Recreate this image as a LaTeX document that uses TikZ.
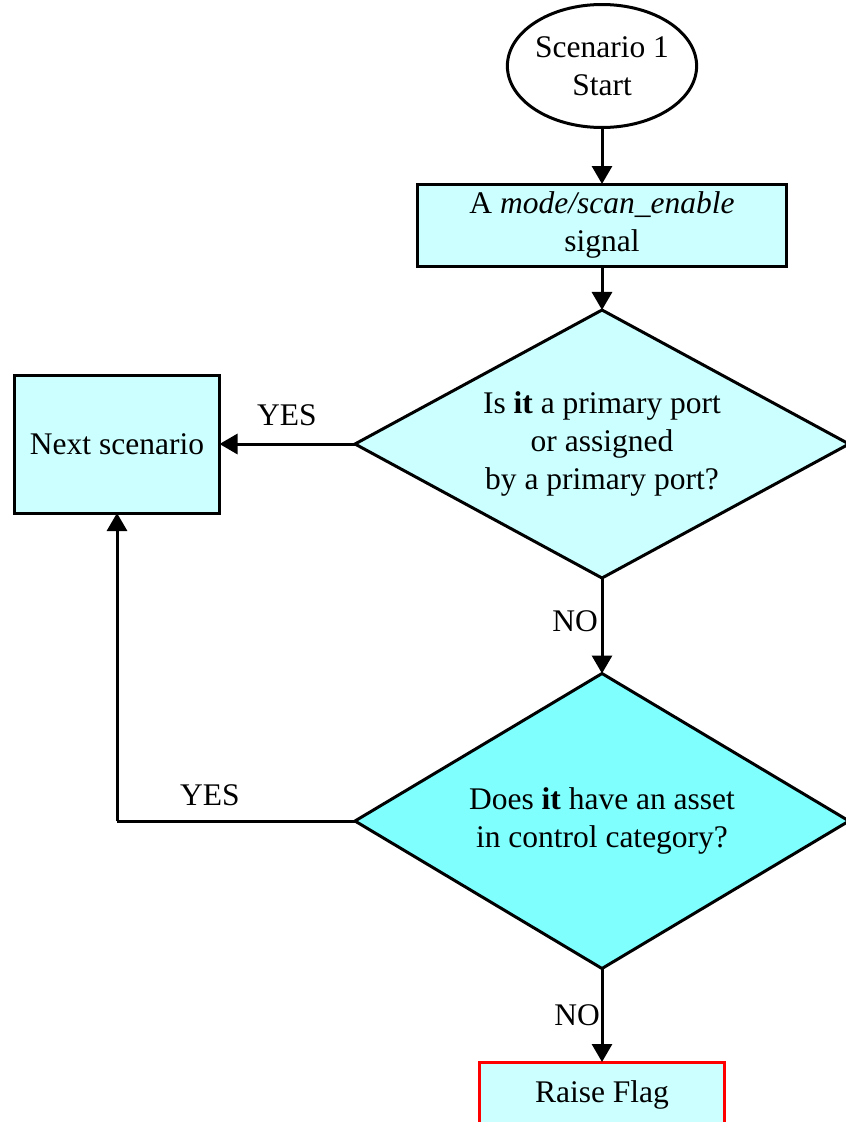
\documentclass[tikz,border=0pt]{standalone}
\usepackage{fontspec}
\setmainfont{Liberation Serif}
\usetikzlibrary{shapes.geometric,arrows.meta}
\definecolor{lcyan}{HTML}{CCFFFF}
\definecolor{mcyan}{HTML}{80FFFF}
\begin{document}
\begin{tikzpicture}[x=1pt,y=-1pt,
  base/.style={draw=black, line width=3pt, font=\fontsize{31.5}{38}\selectfont, align=center, inner sep=0pt, outer sep=0pt},
  procbox/.style={base, rectangle, fill=lcyan},
  decision/.style={base, diamond},
  startnode/.style={base, ellipse, fill=white, minimum width=185pt, minimum height=123pt},
  lbl/.style={font=\fontsize{31.5}{38}\selectfont, inner sep=0pt},
  edge/.style={line width=3pt, -{Triangle[length=18pt,width=20pt]}}
]
\useasboundingbox (0,0) rectangle (846,1122);
\node[startnode] (start) at (602,66) {Scenario 1\\Start};
\node[procbox, minimum width=369pt, minimum height=82pt] (sig) at (602,225) {A \textit{mode/scan\_enable}\\signal};
\node[decision, fill=lcyan, shape aspect=1.84, minimum width=494pt, minimum height=268pt] (d1) at (602,444) {Is \textbf{it} a primary port\\or assigned\\by a primary port?};
\node[procbox, minimum width=205pt, minimum height=138pt] (next) at (117,444) {Next scenario};
\node[decision, fill=mcyan, shape aspect=1.67, minimum width=494pt, minimum height=295pt] (d2) at (602,821) {Does \textbf{it} have an asset\\in control category?};
\node[procbox, draw=red, minimum width=245pt, minimum height=66pt] (flag) at (602,1095) {Raise Flag};
\coordinate (corner) at (117,821);
\draw[edge] (start) -- (sig);
\draw[edge] (sig) -- (d1);
\draw[edge] (d1.west) -- (next.east);
\draw[edge] (d1.south) -- (d2.north);
\draw[line width=3pt] (d2.west) -- (corner);
\draw[edge] (corner) -- (next.south);
\draw[edge] (d2.south) -- (flag.north);
\node[lbl] (yes1) at (287,415) {YES};
\node[lbl] (no1) at (575,621) {NO};
\node[lbl] (yes2) at (210,795) {YES};
\node[lbl] (no2) at (577,1015) {NO};
\end{tikzpicture}
\end{document}
